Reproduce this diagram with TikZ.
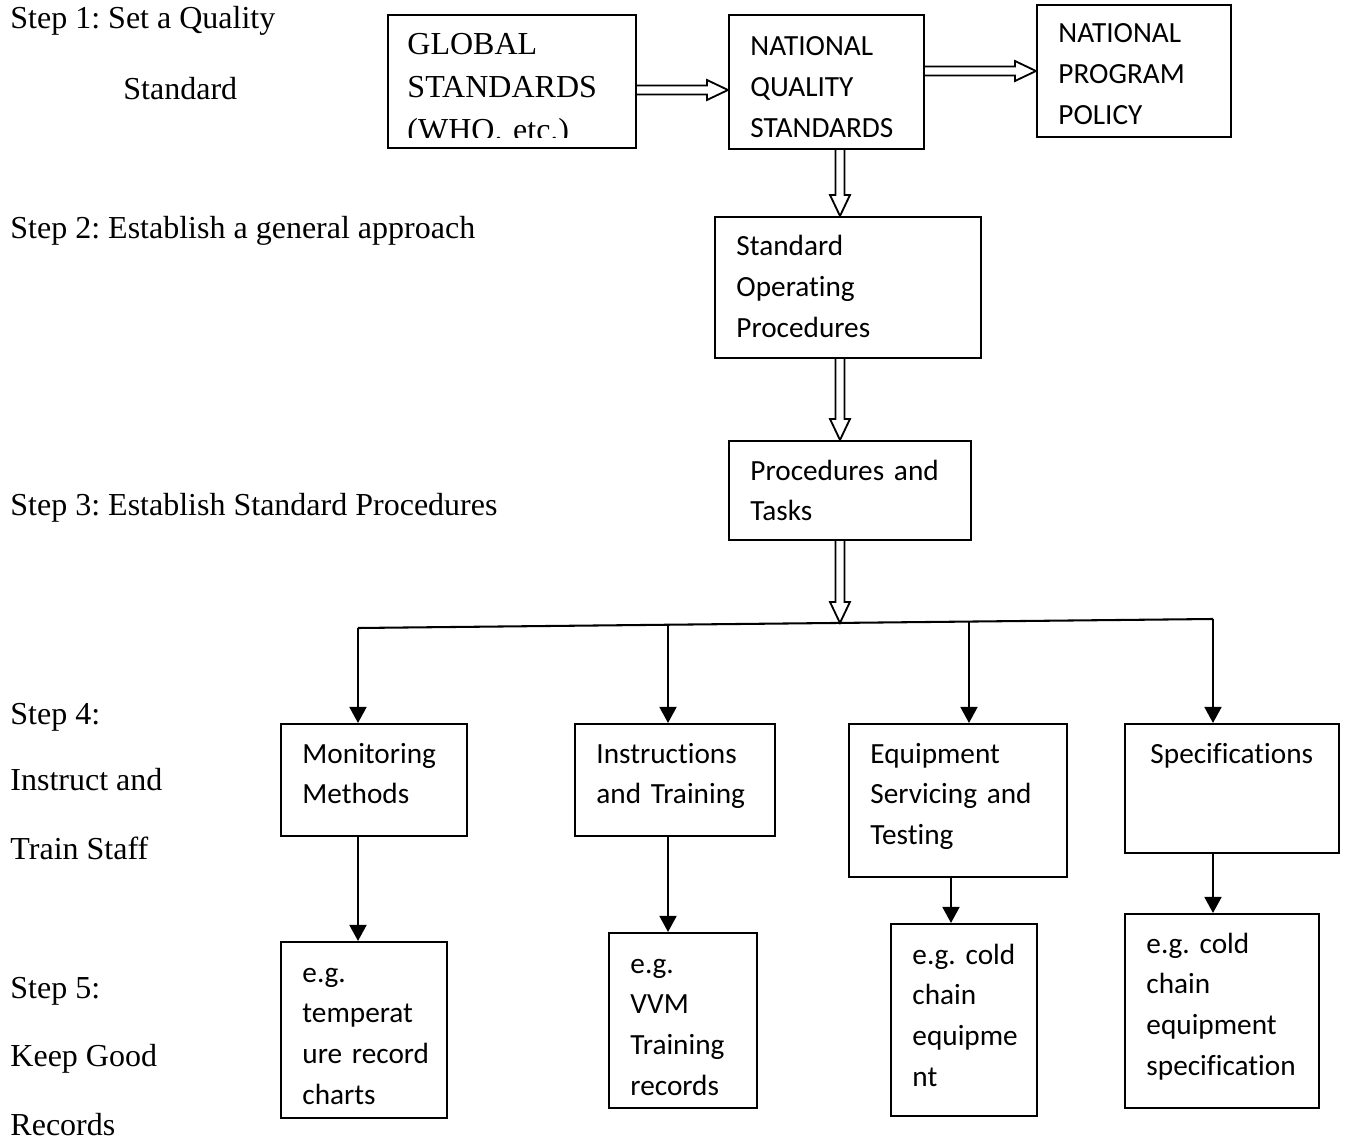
\documentclass[tikz,border=0pt]{standalone}
\usepackage{fontspec}
\setmainfont{Liberation Serif}
\newfontfamily\calfont[Ligatures=NoCommon]{Carlito}
\usetikzlibrary{arrows.meta,calc,fit}
\frenchspacing
\newcommand{\upx}{0.4375pt}
\newcommand{\dblH}[2]{%
  \draw[dblarrow] ($(#1)+(0,-4.5)$) -- ($(#2)+(-21,-4.5)$) -- ($(#2)+(-21,-10)$) -- (#2) -- ($(#2)+(-21,10)$) -- ($(#2)+(-21,4.5)$) -- ($(#1)+(0,4.5)$);}
\newcommand{\dblV}[2]{%
  \draw[dblarrow] ($(#1)+(-4.5,0)$) -- ($(#2)+(-4.5,-21)$) -- ($(#2)+(-10,-21)$) -- (#2) -- ($(#2)+(10,-21)$) -- ($(#2)+(4.5,-21)$) -- ($(#1)+(4.5,0)$);}
\begin{document}
\begin{tikzpicture}[x=0.4375pt,y=-0.4375pt,
  box/.style={draw,line width=0.9pt,inner sep=0pt},
  steptxt/.style={anchor=base west,inner sep=0pt,font=\frenchspacing\fontsize{14}{16.8}\selectfont},
  boxtxt/.style={anchor=base west,inner sep=0pt,align=left,text width=#1*\upx,
     font=\frenchspacing\calfont\fontsize{12.8}{17.9}\selectfont},
  dblarrow/.style={draw,line width=0.8pt,line join=miter},
  arr/.style={line width=0.9pt,-{Triangle[length=7pt,width=7.4pt]}},
  conn/.style={line width=0.9pt}]
\useasboundingbox (0,0) rectangle (1348,1139);

% left step labels
\node[steptxt] (s1) at (10,29) {Step 1: Set a Quality};
\node[steptxt] (s1b) at (123,100) {Standard};
\node[steptxt] (s2) at (10,239) {Step 2: Establish a general approach};
\node[steptxt] (s3) at (10,515) {Step 3: Establish Standard Procedures};
\node[steptxt] (s4) at (10,724) {Step 4:};
\node[steptxt] (s4b) at (10,790) {Instruct and};
\node[steptxt] (s4c) at (10,859) {Train Staff};
\node[steptxt] (s5) at (10,998) {Step 5:};
\node[steptxt] (s5b) at (10,1066) {Keep Good};
\node[steptxt] (s5c) at (10,1135) {Records};

% boxes
\node[box,fit={(388,15) (636,148)}] (glob) {};
\node[box,fit={(729,15) (924,149)}] (nqs) {};
\node[box,fit={(1037,5) (1231,137)}] (npp) {};
\node[box,fit={(715,217) (981,358)}] (sop) {};
\node[box,fit={(729,441) (971,540)}] (pt) {};
\node[box,fit={(281,724) (467,836)}] (mon) {};
\node[box,fit={(575,724) (775,836)}] (ins) {};
\node[box,fit={(849,724) (1067,877)}] (eqp) {};
\node[box,fit={(1125,724) (1339,853)}] (spc) {};
\node[box,fit={(281,942) (447,1118)}] (ex1) {};
\node[box,fit={(609,933) (757,1108)}] (ex2) {};
\node[box,fit={(891,924) (1037,1116)}] (ex3) {};
\node[box,fit={(1125,914) (1319,1108)}] (ex4) {};

% box texts
\begin{scope}
\clip (389,16) rectangle (635,138);
\node[anchor=base west,inner sep=0pt,align=left,text width=225*\upx,
  font=\frenchspacing\fontsize{14}{18.6}\selectfont] (globt) at (407,55) {GLOBAL\\STANDARDS\\(WHO. etc.)};
\end{scope}
\node[boxtxt=165] (nqst) at (750,56) {NATIONAL\\QUALITY\\STANDARDS};
\node[boxtxt=165] (nppt) at (1058,43) {NATIONAL\\PROGRAM\\POLICY};
\node[boxtxt=235] (sopt) at (736,256) {Standard\\Operating\\Procedures};
\node[boxtxt=210] (ptt) at (750,480) {Procedures and\\Tasks};
\node[boxtxt=160] (mont) at (302,763) {Monitoring\\Methods};
\node[boxtxt=175] (inst) at (596,763) {Instructions\\and Training};
\node[boxtxt=192] (eqpt) at (870,763) {Equipment\\Servicing and\\Testing};
\node[boxtxt=185] (spct) at (1150,763) {Specifications};
\node[boxtxt=140] (ex1t) at (302,982) {e.g.\\temperat\\ure record\\charts};
\node[boxtxt=122] (ex2t) at (630,973) {e.g.\\VVM\\Training\\records};
\node[boxtxt=120] (ex3t) at (912,964) {e.g. cold\\chain\\equipme\\nt};
\node[boxtxt=170] (ex4t) at (1146,953) {e.g. cold\\chain\\equipment\\specification};

% double (hollow) arrows
\coordinate (y90) at (0,90);
\coordinate (y71) at (0,71);
\coordinate (x840) at (840,0);
\coordinate (a1s) at (glob.east |- y90);
\coordinate (a1e) at (nqs.west |- y90);
\coordinate (a2s) at (nqs.east |- y71);
\coordinate (a2e) at (npp.west |- y71);
\coordinate (a3s) at (nqs.south -| x840);
\coordinate (a3e) at (sop.north -| x840);
\coordinate (a4s) at (sop.south -| x840);
\coordinate (a4e) at (pt.north -| x840);
\coordinate (hl) at (358,628);
\coordinate (hr) at (1213,619);
\coordinate (a5s) at (pt.south -| x840);
\coordinate (a5e) at ($(hl)!0.5637!(hr)$);
\dblH{a1s}{a1e}
\dblH{a2s}{a2e}
\dblV{a3s}{a3e}
\dblV{a4s}{a4e}
\dblV{a5s}{a5e}

% distribution line
\draw[conn] (hl) -- (hr);
\coordinate (t2) at ($(hl)!0.3626!(hr)$);
\coordinate (t3) at ($(hl)!0.7146!(hr)$);
\coordinate (x951) at (951,0);
\draw[arr] (hl) -- (hl |- mon.north);
\draw[arr] (t2) -- (t2 |- ins.north);
\draw[arr] (t3) -- (t3 |- eqp.north);
\draw[arr] (hr) -- (hr |- spc.north);

% lower arrows
\draw[arr] (mon.south -| hl) -- (ex1.north -| hl);
\draw[arr] (ins.south -| t2) -- (ex2.north -| t2);
\draw[arr] (eqp.south -| x951) -- (ex3.north -| x951);
\draw[arr] (spc.south -| hr) -- (ex4.north -| hr);
\end{tikzpicture}
\end{document}
